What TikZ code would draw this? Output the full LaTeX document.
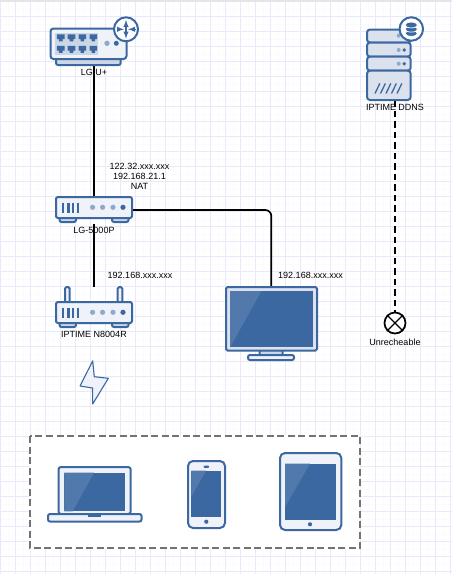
\documentclass[tikz,border=0pt]{standalone}
\usepackage{fontspec}
\setmainfont{Liberation Sans}
\usetikzlibrary{positioning}
\definecolor{iconblue}{HTML}{3C68A2}
\definecolor{iconpale}{HTML}{EFF2F8}
\definecolor{iconmid}{HTML}{CBD6E6}
\definecolor{iconshine}{HTML}{5279AB}
\definecolor{iconsoft}{HTML}{8FA9CC}
\definecolor{gridmajor}{HTML}{E9E9FB}
\definecolor{gridminor}{HTML}{FAFAFF}
\tikzset{
  bound/.style={inner sep=0pt, outer sep=0pt},
  lbl/.style={inner sep=0pt, font=\fontsize{9}{11}\selectfont, text height=7pt, text depth=1.5pt},
  part/.style={draw=iconblue, fill=iconpale, line width=2pt, rounded corners=2pt},
  wire/.style={black, line width=1.7pt},
  unitbody/.pic={
    \draw[part, fill=iconmid] (3.5,19) rectangle (20,25);
    \draw[part, fill=iconmid] (56,19) rectangle (72.5,25);
    \draw[part] (0,0) rectangle (76,21);
    \foreach \x in {7,12.3,17,22}
      \draw[iconblue, line width=2.6pt] (\x,5.5) -- (\x,15.5);
    \foreach \x in {36.6,46.6,57}
      \fill[iconsoft] (\x,10.3) circle (2.6);
    \fill[iconblue] (67,10.3) circle (2.6);
  },
  screen/.style={fill=iconblue},
  shine/.style={fill=iconshine}
}
\begin{document}
\begin{tikzpicture}[x=1pt, y=-1pt]
  \useasboundingbox (0,0) rectangle (452,574);
  \fill[white] (0,0) rectangle (452,574);
  % paper grid
  \foreach \k in {0,...,60} {
    \draw[gridminor, line width=1pt] (\k*15+8,0) -- (\k*15+8,574);
    \draw[gridminor, line width=1pt] (0,\k*15+9) -- (452,\k*15+9);
  }
  \foreach \k in {0,...,38} {
    \draw[gridmajor, line width=1pt] (\k*15+0.5,0) -- (\k*15+0.5,574);
    \draw[gridmajor, line width=1pt] (0,\k*15+1.5) -- (452,\k*15+1.5);
  }
  \fill[black!10] (0,0) rectangle (452,2);

  % device bounds
  \node[bound, minimum width=88pt, minimum height=48.5pt] (lgu) at (94,41) {};
  \node[bound, minimum width=56.6pt, minimum height=83pt] (ddns) at (395,58.5) {};
  \node[bound, minimum width=76pt, minimum height=28pt] (lg5000) at (94,210) {};
  \node[bound, minimum width=76pt, minimum height=40pt] (n8004) at (94,306.7) {};
  \node[bound, minimum width=91.3pt, minimum height=73.5pt] (tv) at (271.3,323.5) {};
  \node[circle, draw=black, fill=white, line width=1.7pt, minimum size=21pt, inner sep=0pt] (blocked) at (395,323) {};

  \draw[wire] (lgu.south) -- (lg5000.north);
  \draw[wire] (lg5000.south) -- (n8004.north);
  \draw[wire, rounded corners=6pt] (lg5000.east) -| (tv.north);
  \draw[wire, dash pattern=on 6.5pt off 4pt] (ddns.south) -- (blocked.north);
  \draw[black, line width=1.4pt] (blocked.45) -- (blocked.225) (blocked.135) -- (blocked.315);

  % LG U+ router
  \draw[part, fill=iconmid] (56,56) rectangle (120.7,65);
  \draw[part, rounded corners=3pt] (50.5,28.5) rectangle (126.5,59);
  \fill[iconmid] (55,33) rectangle (98,55);
  \foreach \x in {60.7,71.5,82.4,93.3}
    \foreach \y in {37.7,49.3}
      \fill[iconblue] (\x-3.8,\y-3.4) -- (\x+3.8,\y-3.4) -- (\x+3.8,\y+1.4) -- (\x+1.8,\y+1.4)
        -- (\x+1.8,\y+3.6) -- (\x-1.8,\y+3.6) -- (\x-1.8,\y+1.4) -- (\x-3.8,\y+1.4) -- cycle;
  \fill[iconsoft] (107,43.3) circle (2.7);
  \fill[iconblue] (116.3,43.3) circle (2.5);
  \node[circle, draw=iconblue, fill=white, line width=2pt, minimum size=24pt, inner sep=0pt] (hub) at (126,29.3) {};
  \draw[iconblue, line width=1.4pt, latex-latex] (126,20) -- (126,38.5);
  \draw[iconblue, line width=1.4pt, -latex] (116.5,29.3) -- (124,29.3);
  \draw[iconblue, line width=1.4pt, -latex] (135.5,29.3) -- (128,29.3);

  % DDNS server
  \draw[part, rounded corners=3pt, fill=iconmid!70!white] (367,29.5) rectangle (410.7,42.5);
  \draw[part, rounded corners=3pt, fill=iconmid!70!white] (367,42.5) rectangle (410.7,56.7);
  \draw[part, rounded corners=3pt, fill=iconmid!70!white] (367,56.7) rectangle (410.7,70.7);
  \draw[part, rounded corners=3pt, fill=iconmid!70!white] (367,70.7) rectangle (410.7,100);
  \foreach \y in {35.7,50,63.7} {
    \fill[iconsoft] (398.7,\y) circle (2);
    \fill[iconblue] (404.3,\y) circle (1.9);
  }
  \foreach \x in {375,380.5,386,391.5,397}
    \draw[iconblue, line width=1.3pt] (\x,93.5) -- (\x+4.8,83.5);
  \node[circle, draw=iconblue, fill=white, line width=2pt, minimum size=23.5pt, inner sep=0pt] (store) at (411.3,29) {};
  \foreach \y in {33.4,29.2,25}
    \draw[white, fill=iconblue, line width=0.7pt] (411.3,\y) ellipse (6.2 and 2.9);

  % LG-5000P and IPTIME N8004R
  \pic at (56,197) {unitbody};
  \draw[part, rounded corners=1.5pt] (65,287) rectangle (69.6,303);
  \draw[part, rounded corners=1.5pt] (117.7,287) rectangle (122.3,303);
  \pic at (56,302) {unitbody};

  % wireless bolt
  \draw[iconblue, fill=iconpale, line width=1.1pt, line join=round] (92.7,361) -- (80,386) -- (92.5,388)
    -- (92.7,404) -- (108.3,378.3) -- (94.3,376.7) -- cycle;

  % TV
  \draw[part, fill=iconmid, rounded corners=1pt] (259.5,350) rectangle (282.7,355);
  \draw[part, rounded corners=2pt] (248,355) rectangle (294,360);
  \draw[part, fill=iconmid!70!white, rounded corners=1.5pt] (226,287) rectangle (317,350.5);
  \fill[screen] (230,291) rectangle (312.7,346.5);
  \fill[shine] (230,291) -- (261.5,291) -- (230.5,346.5) -- (230,346.5) -- cycle;

  % dashed frame with devices
  \draw[black!55, fill=white, line width=1.2pt, dash pattern=on 7pt off 3.5pt] (30,436) rectangle (360,548);

  % laptop
  \draw[part, rounded corners=2.5pt] (58.5,467) rectangle (130.7,514);
  \fill[screen] (64.3,472.7) rectangle (124.7,511.3);
  \fill[shine] (64.3,472.7) -- (94,472.7) -- (72.7,511.3) -- (64.3,511.3) -- cycle;
  \draw[part, rounded corners=2pt] (48,514) rectangle (141.5,521.5);
  \fill[iconblue] (88.3,513.5) rectangle (101,517);

  % phone
  \draw[part, rounded corners=5pt] (188,461) rectangle (225,528);
  \fill[screen] (191.3,470.7) rectangle (221.3,517.3);
  \fill[shine] (191.3,470.7) -- (206,470.7) -- (191.3,497) -- cycle;
  \fill[iconblue] (206.3,521.7) circle (2.1);
  \fill[iconblue, rounded corners=0.8pt] (203.6,465.6) rectangle (209,467.8);

  % tablet
  \draw[part, rounded corners=5pt] (280,453) rectangle (341.3,530);
  \fill[screen] (285,463.7) rectangle (336,520);
  \fill[shine] (285,463.7) -- (310,463.7) -- (285,507) -- cycle;
  \fill[iconblue] (310,524.3) circle (2.1);

  % labels
  \node[lbl, below=3pt of lgu] (lgulbl) {LG U+};
  \node[lbl, below=3pt of ddns] (ddnslbl) {IPTIME DDNS};
  \node[lbl, below=2.5pt of lg5000] (lg5000lbl) {LG-5000P};
  \node[lbl, below=4pt of n8004] (n8004lbl) {IPTIME N8004R};
  \node[lbl, below=3.5pt of blocked] (blockedlbl) {Unrecheable};
  \node[lbl, anchor=center, align=center, text height=, text depth=] (natlbl) at (139.5,176) {122.32.xxx.xxx\\[-1pt]192.168.21.1\\[-1pt]NAT};
  \node[lbl] (n8004ip) at (140,276) {192.168.xxx.xxx};
  \node[lbl] (tvip) at (310.5,276) {192.168.xxx.xxx};
\end{tikzpicture}
\end{document}
